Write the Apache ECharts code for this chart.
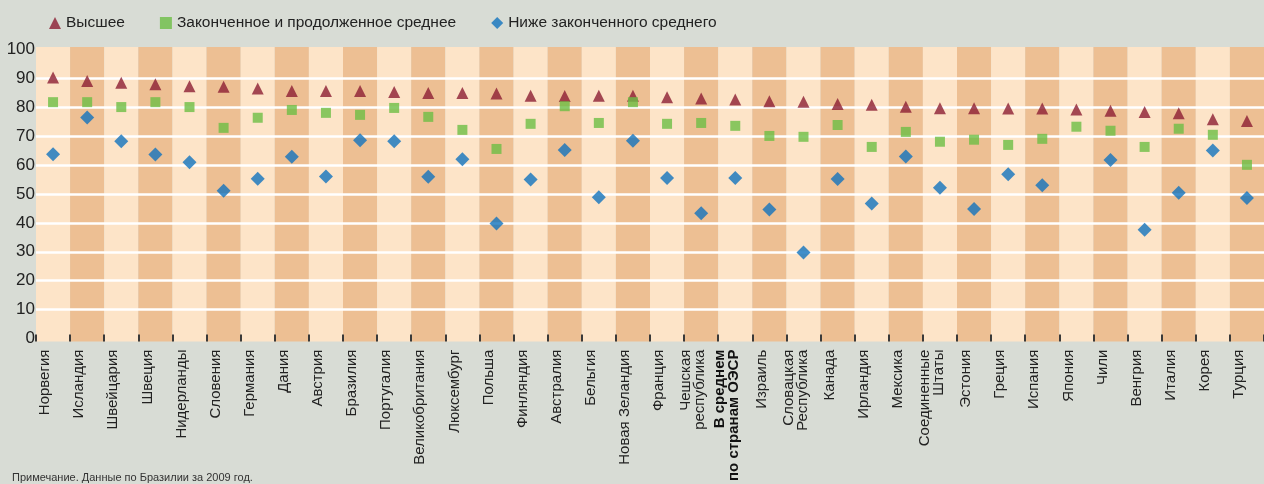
<!DOCTYPE html>
<html lang="ru">
<head>
    <meta charset="UTF-8">
    <title>Уровень образования</title>
    <script src="https://cdn.jsdelivr.net/npm/echarts@6.0.0/dist/echarts.min.js"></script>
    <style>
        html, body { margin: 0; padding: 0; background: #d8dcd5; }
    </style>
</head>
<body>
    <div id="main" style="width: 1264px;height:484px;"></div>
    <script type="text/javascript">
        // Countries, left to right
        const categories = [
            'Норвегия', 'Исландия', 'Швейцария', 'Швеция', 'Нидерланды', 'Словения',
            'Германия', 'Дания', 'Австрия', 'Бразилия', 'Португалия', 'Великобритания',
            'Люксембург', 'Польша', 'Финляндия', 'Австралия', 'Бельгия', 'Новая Зеландия',
            'Франция', 'Чешская\nреспублика', 'В среднем\nпо странам ОЭСР', 'Израиль',
            'Словацкая\nРеспублика', 'Канада', 'Ирландия', 'Мексика', 'Соединенные\nШтаты',
            'Эстония', 'Греция', 'Испания', 'Япония', 'Чили', 'Венгрия', 'Италия', 'Корея', 'Турция'
        ];

        // Высшее
        const higher = [
            90.3, 89.1, 88.5, 88.0, 87.3, 87.1, 86.5, 85.7, 85.7, 85.7, 85.3, 85.0,
            85.0, 84.8, 84.0, 83.9, 84.0, 84.0, 83.5, 83.1, 82.7, 82.1, 81.9, 81.2,
            80.9, 80.2, 79.7, 79.7, 79.6, 79.6, 79.3, 78.8, 78.4, 78.0, 75.9, 75.3
        ];

        // Законченное и продолженное среднее
        const upperSecondary = [
            81.8, 81.8, 80.1, 81.8, 80.1, 72.9, 76.4, 79.1, 78.1, 77.4, 79.8, 76.7,
            72.2, 65.6, 74.3, 80.4, 74.6, 81.8, 74.3, 74.6, 73.6, 70.1, 69.8, 73.9,
            66.3, 71.5, 68.1, 68.8, 67.0, 69.1, 73.3, 71.9, 66.3, 72.6, 70.5, 60.1
        ];

        // Ниже законченного среднего (no value for Japan)
        const belowSecondary = [
            63.8, 76.5, 68.3, 63.7, 61.0, 51.1, 55.3, 62.9, 56.1, 68.6, 68.3, 56.0,
            62.0, 39.8, 55.0, 65.2, 48.9, 68.4, 55.5, 43.3, 55.5, 44.6, 29.7, 55.2,
            46.7, 63.0, 52.2, 44.8, 56.8, 53.0, null, 61.8, 37.6, 50.4, 65.1, 48.6
        ];

        const yTicks = [0, 10, 20, 30, 40, 50, 60, 70, 80, 90, 100];
        const gridValues = [10, 20, 30, 40, 50, 60, 70, 80, 90];

        const seriesNames = ['Высшее', 'Законченное и продолженное среднее', 'Ниже законченного среднего'];

        let myChart = echarts.init(document.getElementById('main'));

        let options = {
            animation: false,
            backgroundColor: '#d8dcd5',
            textStyle: { fontFamily: 'Liberation Sans, Arial, sans-serif' },
            title: {
                text: 'Примечание. Данные по Бразилии за 2009 год.',
                left: 12,
                bottom: 0,
                padding: 0,
                textStyle: { fontSize: 11, lineHeight: 12, fontWeight: 'normal', color: '#333' }
            },
            legend: {
                left: 44,
                top: 10,
                itemWidth: 12,
                itemHeight: 12,
                itemGap: 35,
                textStyle: { fontSize: 15.5, color: '#222' },
                data: [
                    { name: seriesNames[0], icon: 'triangle' },
                    { name: seriesNames[1], icon: 'rect' },
                    { name: seriesNames[2], icon: 'diamond' }
                ]
            },
            grid: { left: 36, top: 47, width: 1233, height: 295 },
            xAxis: [
                {
                    type: 'category',
                    data: categories,
                    z: 0,
                    axisLine: { show: false, onZero: false },
                    axisTick: { show: false },
                    splitArea: { show: true, areaStyle: { color: ['#fde4c8', '#edbf93'] } },
                    axisLabel: {
                        rotate: 90,
                        interval: 0,
                        margin: 8,
                        fontSize: 15,
                        lineHeight: 14,
                        color: '#222',
                        padding: [0, 0, 16, 0],
                        formatter: function (v) {
                            if (v.indexOf('В среднем') === 0) {
                                return v.split('\n').map(s => '{b|' + s + '}').join('\n');
                            }
                            return v;
                        },
                        rich: { b: { fontWeight: 'bold', fontSize: 15, lineHeight: 14, color: '#111' } }
                    }
                },
                {
                    // tick marks only, drawn above the column stripes
                    type: 'category',
                    data: categories,
                    position: 'bottom',
                    z: 3,
                    axisLine: { show: true, onZero: false, lineStyle: { color: 'rgba(0,0,0,0)' } },
                    axisLabel: { show: false },
                    splitArea: { show: false },
                    splitLine: { show: false },
                    axisTick: { show: true, inside: true, interval: 0, length: 7, lineStyle: { color: '#3a3a3a', width: 2 } }
                }
            ],
            yAxis: {
                type: 'value',
                min: -1.1,
                max: 100.9,
                z: 1,
                axisLine: { show: false },
                axisTick: { show: false, customValues: gridValues },
                axisLabel: {
                    customValues: yTicks,
                    margin: 1,
                    fontSize: 17,
                    color: '#222'
                },
                splitLine: { show: true, lineStyle: { color: '#ffffff', width: 2.5 } }
            },
            series: [
                {
                    name: seriesNames[0],
                    type: 'scatter',
                    symbol: 'triangle',
                    symbolSize: 12,
                    itemStyle: { color: '#8c1e33' },
                    data: higher
                },
                {
                    name: seriesNames[1],
                    type: 'scatter',
                    symbol: 'rect',
                    symbolSize: 10,
                    itemStyle: { color: '#6dbe45' },
                    data: upperSecondary
                },
                {
                    name: seriesNames[2],
                    type: 'scatter',
                    symbol: 'diamond',
                    symbolSize: 14,
                    itemStyle: { color: '#1273be' },
                    data: belowSecondary
                }
            ]
        };

        myChart.setOption(options);
    </script>
</body>
</html>
